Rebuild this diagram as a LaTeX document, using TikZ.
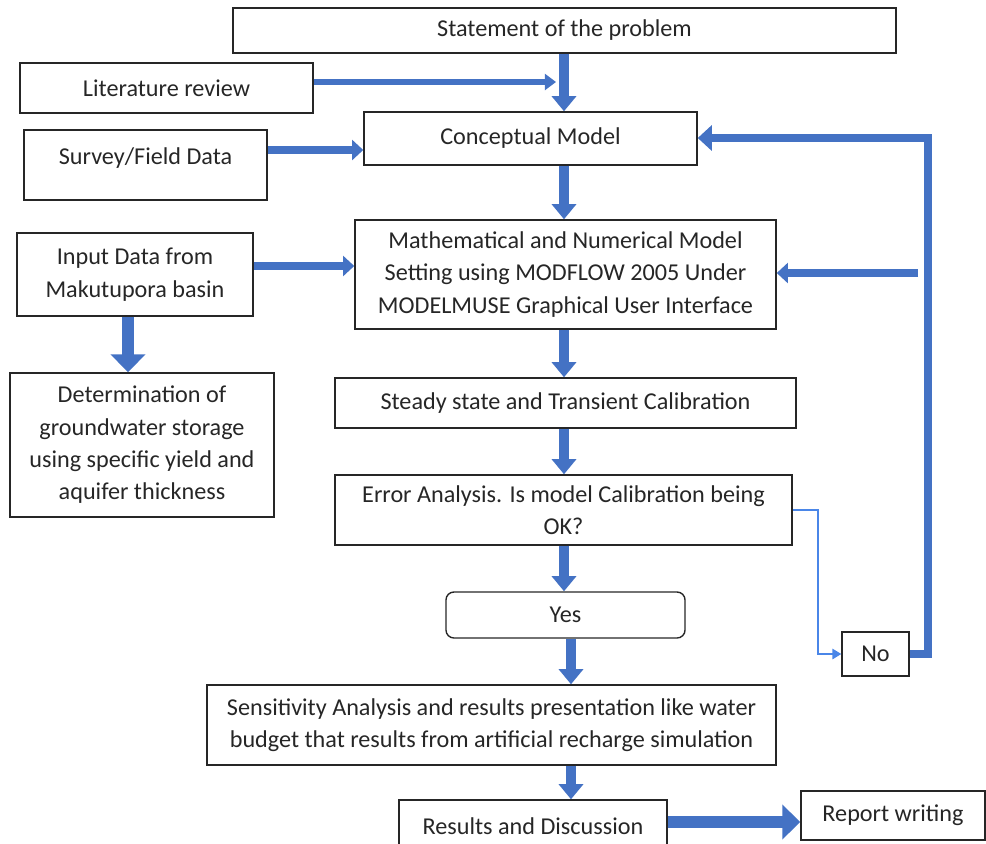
\documentclass[tikz,border=0pt]{standalone}
\usepackage{fontspec}
\setmainfont{Carlito}
\usetikzlibrary{arrows.meta}
\definecolor{flowblue}{RGB}{68, 114, 196}
\definecolor{thinblue}{RGB}{74, 134, 232}
\definecolor{boxline}{RGB}{38, 38, 38}

\begin{document}
\begin{tikzpicture}[x=0.025cm, y=-0.025cm,
  box/.style={draw=boxline, line width=1pt, align=center, inner sep=0pt, text=black!85,
    font=\fontsize{17.2pt}{23pt}\selectfont},
  flow/.style={draw=flowblue, line width=7pt, -{Triangle[length=0.38cm, width=0.6cm]}},
  flowwide/.style={draw=flowblue, line width=8.5pt, -{Triangle[length=0.45cm, width=0.85cm]}},
  flowmid/.style={draw=flowblue, line width=5.7pt, -{Triangle[length=0.28cm, width=0.5cm]}},
  flowthin/.style={draw=flowblue, line width=4.3pt, -{Triangle[length=0.28cm, width=0.4cm]}},
  noline/.style={draw=thinblue, line width=0.9pt, -{Triangle[length=0.22cm, width=0.26cm]}}
]
\useasboundingbox (0,0) rectangle (986,843);

% boxes
\node[box, minimum width=16.575cm, minimum height=1.125cm] (stmt) at (564.5,30.5) {Statement of the problem};
\node[box, minimum width=7.325cm, minimum height=1.25cm] (lit) at (166.5,88) {Literature review};
\node[box, minimum width=8.325cm, minimum height=1.325cm] (concept) at (530.5,138.5) {Conceptual Model};
\node[box, minimum width=6.075cm, minimum height=1.75cm] (survey) at (145.5,165) {\raisebox{0.45cm}{Survey/Field Data}};
\node[box, minimum width=5.9cm, minimum height=2.075cm] (input) at (135,274.5) {Input Data from\\Makutupora basin};
\node[box, minimum width=10.525cm, minimum height=2.725cm] (math) at (565.5,274.5)
  {Mathematical and Numerical Model\\Setting using MODFLOW 2005 Under\\MODELMUSE Graphical User Interface};
\node[box, minimum width=6.6cm, minimum height=3.6cm] (storage) at (142,445)
  {Determination of\\groundwater storage\\using specific yield and\\aquifer thickness};
\node[box, minimum width=11.525cm, minimum height=1.25cm] (calib) at (565.5,403) {Steady state and Transient Calibration};
\node[box, minimum width=11.425cm, minimum height=1.75cm] (error) at (563.5,510) {Error Analysis. Is model Calibration being\\OK?};
\node[box, rounded corners=0.2cm, minimum width=5.975cm, minimum height=1.15cm] (yes) at (565.5,615) {Yes};
\node[box, minimum width=1.675cm, minimum height=1.1cm] (no) at (875.5,654) {No};
\node[box, minimum width=14.225cm, minimum height=2cm] (sens) at (491.5,725)
  {Sensitivity Analysis and results presentation like water\\budget that results from artificial recharge simulation};
\node[box, minimum width=6.7cm, minimum height=1.3cm] (results) at (533,826) {Results and Discussion};
\node[box, minimum width=4.6cm, minimum height=1.225cm] (report) at (893,815.5) {Report writing};

% helper points
\coordinate (litend) at (556,82);
\coordinate (surveyrow) at (0,150);
\coordinate (inputrow) at (0,266);
\coordinate (spine) at (564,0);
\coordinate (lower) at (571,0);
\coordinate (nobend) at (818,510);
\coordinate (loopr) at (928,138);
\coordinate (branch) at (918,273);

% connectors
\draw[flow] (stmt.south -| spine) -- (concept.north -| spine);
\draw[flowthin] (lit.east |- litend) -- (litend);
\draw[flowmid] (survey.east |- surveyrow) -- (concept.west |- surveyrow);
\draw[flow] (concept.south -| spine) -- (math.north -| spine);
\draw[flowmid] (input.east |- inputrow) -- (math.west |- inputrow);
\draw[flowwide] (input.south -| 128,0) -- (storage.north -| 128,0);
\draw[flow] (math.south -| spine) -- (calib.north -| spine);
\draw[flow] (calib.south -| spine) -- (error.north -| spine);
\draw[flow] (error.south -| spine) -- (yes.north -| spine);
\draw[flow] (yes.south -| lower) -- (sens.north -| lower);
\draw[flow] (sens.south -| lower) -- (results.north -| lower);
\draw[flowwide] (results.east |- 0,822) -- (report.west |- 0,822);
\draw[noline] (error.east |- nobend) -- (nobend) |- (no.west);
\draw[draw=flowblue, line width=6pt, -{Triangle[length=0.35cm, width=0.62cm]}]
  (no.east) -| (loopr) -- (concept.east |- loopr);
\draw[flowmid] (branch) -- (math.east |- branch);
\end{tikzpicture}
\end{document}
